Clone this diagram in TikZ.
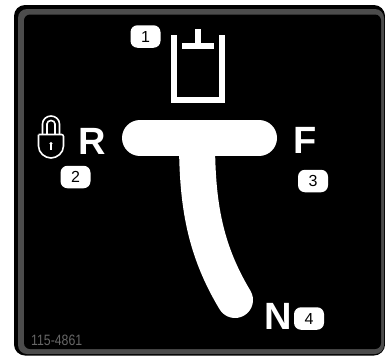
\documentclass[tikz,border=0pt]{standalone}
\usepackage{fontspec}
\setmainfont{Liberation Sans}
\tikzset{
  x=1pt, y=-1pt,
  badge/.style = {
    fill=white, text=black, rounded corners=7pt,
    minimum width=30pt, minimum height=22.5pt,
    inner sep=0pt, font=\fontsize{16}{16}\selectfont
  },
  letter/.style = {text=white, inner sep=0pt, anchor=base, font=\fontsize{38}{38}\selectfont\bfseries},
  wht/.style = {draw=white, line width=6pt},
  track/.style = {draw=white, line width=36pt, line cap=round},
  lockline/.style = {draw=white, line width=1.6pt}
}

\begin{document}
\begin{tikzpicture}
\useasboundingbox (0,0) rectangle (385,356);
\fill[white] (0,0) rectangle (385,356);
% plate
\fill[black, rounded corners=11pt] (14,5) rectangle (385,355.5);
\fill[black!70, rounded corners=9pt] (18,9) rectangle (384,354);
\fill[black, rounded corners=6pt] (24,14.5) rectangle (381,349);
% cylinder
\draw[wht, line cap=butt] (174.3,35) -- (174.3,100) -- (222.3,100) -- (222.3,35);
\draw[wht] (182.3,46.3) -- (214.3,46.3);
\draw[wht] (198.3,29.3) -- (198.3,46.3);
% shift track
\draw[track] (140,138) -- (259,138);
\draw[track] (197,140) .. controls (197,205) and (205,250) .. (235,300);
% lock
\draw[lockline, rounded corners=2pt] (38.5,134.5) -- (63.5,134.5) -- (63.5,146);
\draw[lockline] (63.5,146) .. controls (63.5,153) and (57,158) .. (51,158) .. controls (45,158) and (38.5,153) .. (38.5,146) -- (38.5,134.5);
\draw[lockline] (42.5,134.5) -- (42.5,124) arc[start angle=180, end angle=0, x radius=8.5, y radius=-8] -- (59.5,134.5);
\draw[lockline] (47,134.5) -- (47,124) arc[start angle=180, end angle=0, x radius=4, y radius=-3.5] -- (55,134.5);
\fill[white] (51,143.5) circle (1.7);
\fill[white] (50.2,144) rectangle (51.8,149.5);
% letters
\node[letter] (r) at (92,154) {R};
\node[letter] (f) at (305.5,153) {F};
\node[letter] (n) at (278,329) {N};
% numbers
\node[badge] (one) at (145.5,36.5) {1};
\node[badge] (two) at (75.5,177) {2};
\node[badge] (three) at (313,181) {3};
\node[badge] (four) at (309,318.5) {4};
% part number
\node[text=black!60, inner sep=0pt, anchor=base west, xscale=.82, font=\fontsize{15}{15}\selectfont] (partno) at (31,345) {115-4861};
\end{tikzpicture}
\end{document}
